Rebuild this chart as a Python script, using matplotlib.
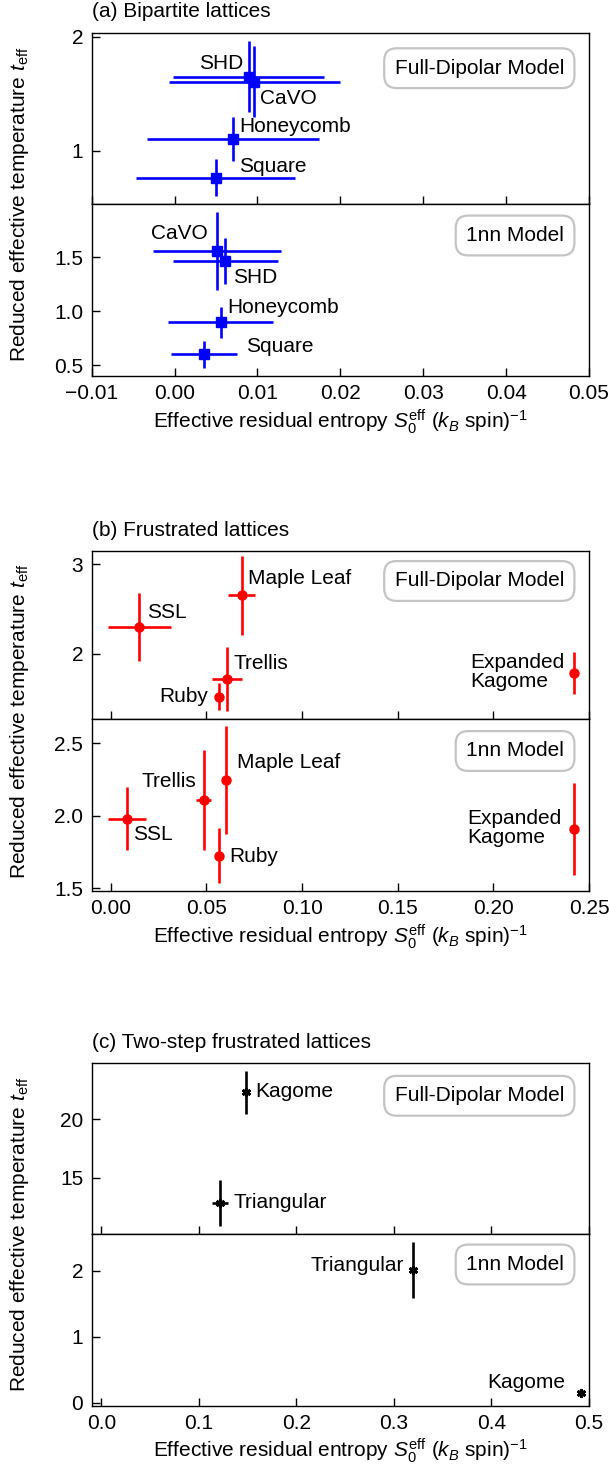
import matplotlib
matplotlib.use("Agg")
import matplotlib.pyplot as plt

plt.rcParams['font.family'] = ['Liberation Sans', 'DejaVu Sans']
plt.rcParams['mathtext.fontset'] = 'custom'
plt.rcParams['mathtext.rm'] = 'Liberation Sans'
plt.rcParams['mathtext.it'] = 'Liberation Sans:italic'
plt.rcParams['mathtext.bf'] = 'Liberation Sans:bold'
plt.rcParams['font.size'] = 15

# ---------------- Data ----------------
# (a) Bipartite lattices
a_fd_names = ['SHD', 'CaVO', 'Honeycomb', 'Square']
a_fd_x = [0.00892, 0.0096, 0.00704, 0.00494]
a_fd_xerr = [0.0091, 0.0103, 0.0104, 0.0096]
a_fd_y = [1.649, 1.605, 1.103, 0.763]
a_fd_yerr = [0.31, 0.31, 0.19, 0.16]
a_fd_lx = [0.00831, 0.01033, 0.0078, 0.0078]
a_fd_ly = [1.767, 1.46, 1.21, 0.86]
a_fd_ha = ['right', 'left', 'left', 'left']

a_nn_names = ['CaVO', 'SHD', 'Honeycomb', 'Square']
a_nn_x = [0.00514, 0.00614, 0.00554, 0.00354]
a_nn_xerr = [0.0077, 0.0063, 0.0063, 0.004]
a_nn_y = [1.558, 1.466, 0.896, 0.599]
a_nn_yerr = [0.361, 0.217, 0.144, 0.127]
a_nn_lx = [0.00406, 0.00711, 0.00639, 0.00864]
a_nn_ly = [1.721, 1.308, 1.034, 0.67]
a_nn_ha = ['right', 'left', 'left', 'left']

# (b) Frustrated lattices
b_fd_names = ['SSL', 'Maple Leaf', 'Trellis', 'Ruby', 'Expanded\nKagome']
b_fd_x = [0.01494, 0.0684, 0.0606, 0.0566, 0.2421]
b_fd_xerr = [0.0164, 0.007, 0.0078, 0.0015, 0.0]
b_fd_y = [2.302, 2.653, 1.72, 1.522, 1.787]
b_fd_yerr = [0.38, 0.44, 0.36, 0.15, 0.23]
b_fd_lx = [0.0191, 0.0719, 0.064, 0.051, 0.2374]
b_fd_ly = [2.46, 2.84, 1.888, 1.525, 1.794]
b_fd_ha = ['left', 'left', 'left', 'right', 'right']

b_nn_names = ['SSL', 'Trellis', 'Maple Leaf', 'Ruby', 'Expanded\nKagome']
b_nn_x = [0.00836, 0.0486, 0.0601, 0.0564, 0.2421]
b_nn_xerr = [0.010, 0.004, 0.0, 0.0, 0.0]
b_nn_y = [1.981, 2.106, 2.247, 1.724, 1.908]
b_nn_yerr = [0.215, 0.345, 0.37, 0.19, 0.32]
b_nn_lx = [0.0118, 0.0446, 0.0658, 0.062, 0.2356]
b_nn_ly = [1.869, 2.239, 2.366, 1.72, 1.913]
b_nn_ha = ['left', 'right', 'left', 'left', 'right']

# (c) Two-step frustrated lattices
c_fd_names = ['Kagome', 'Triangular']
c_fd_x = [0.148, 0.1213]
c_fd_xerr = [0.002, 0.008]
c_fd_y = [22.29, 12.82]
c_fd_yerr = [1.87, 1.97]
c_fd_lx = [0.158, 0.135]
c_fd_ly = [22.4, 12.9]
c_fd_ha = ['left', 'left']

c_nn_names = ['Triangular', 'Kagome']
c_nn_x = [0.3196, 0.4923]
c_nn_xerr = [0.001, 0.001]
c_nn_y = [2.015, 0.15]
c_nn_yerr = [0.43, 0.03]
c_nn_lx = [0.31, 0.4752]
c_nn_ly = [2.09, 0.30]
c_nn_ha = ['right', 'right']

# ---------------- Figure ----------------
W, H = 610, 1480
fig = plt.figure(figsize=(W / 100, H / 100), dpi=100)


def make_ax(top_px, bot_px):
    left, right = 91.7, 589.0
    return fig.add_axes([left / W, 1 - bot_px / H, (right - left) / W, (bot_px - top_px) / H])


def style(ax):
    ax.tick_params(direction='in', length=6, width=1.0, top=False, right=False,
                   labelsize=15, pad=6)
    for s in ax.spines.values():
        s.set_linewidth(1.0)


def draw(ax, x, xerr, y, yerr, names, lx, ly, ha, color, marker, ms, mew):
    for i in range(len(x)):
        ax.errorbar(x[i], y[i], xerr=xerr[i] if xerr[i] > 0 else None, yerr=yerr[i],
                    fmt='none', ecolor=color, elinewidth=1.9, capsize=0)
        ax.plot(x[i], y[i], linestyle='none', marker=marker, color=color, ms=ms, mew=mew)
        ax.text(lx[i], ly[i], names[i], ha=ha[i], va='center', multialignment='left',
                linespacing=1.0, fontsize=15)


def model_box(ax, text, dy):
    ax.annotate(text, xy=(1, 1), xycoords='axes fraction', xytext=(-25, -dy),
                textcoords='offset pixels', ha='right', va='center', fontsize=15,
                bbox=dict(boxstyle='round,pad=0.5,rounding_size=0.6', fc='white',
                          ec='#c4c4c4', lw=1.6))


xlabel = r'Effective residual entropy $S_0^{\rm eff}$ $(k_B\ \mathrm{spin})^{-1}$'
ylabel = r'Reduced effective temperature $t_{\rm eff}$'

panels = [
    dict(title='(a) Bipartite lattices', tops=(32.7, 204.0, 376.0), color='#0000ff',
         marker='s', ms=7.5, mew=1.0, xlim=(-0.01, 0.05),
         xticks=[-0.01, 0, 0.01, 0.02, 0.03, 0.04, 0.05], xfmt='{:.2f}',
         ylim1=(0.532, 2.035), yt1=[1, 2], yf1='{:.0f}',
         ylim2=(0.398, 1.995), yt2=[0.5, 1.0, 1.5], yf2='{:.1f}',
         d1=(a_fd_x, a_fd_xerr, a_fd_y, a_fd_yerr, a_fd_names, a_fd_lx, a_fd_ly, a_fd_ha),
         d2=(a_nn_x, a_nn_xerr, a_nn_y, a_nn_yerr, a_nn_names, a_nn_lx, a_nn_ly, a_nn_ha),
         box1=35.5, box2=31.5),
    dict(title='(b) Frustrated lattices', tops=(551.0, 719.0, 891.0), color='#ff0000',
         marker='o', ms=6.5, mew=1.0, xlim=(-0.01, 0.25),
         xticks=[0, 0.05, 0.10, 0.15, 0.20, 0.25], xfmt='{:.2f}',
         ylim1=(1.275, 3.145), yt1=[2, 3], yf1='{:.0f}',
         ylim2=(1.481, 2.668), yt2=[1.5, 2.0, 2.5], yf2='{:.1f}',
         d1=(b_fd_x, b_fd_xerr, b_fd_y, b_fd_yerr, b_fd_names, b_fd_lx, b_fd_ly, b_fd_ha),
         d2=(b_nn_x, b_nn_xerr, b_nn_y, b_nn_yerr, b_nn_names, b_nn_lx, b_nn_ly, b_nn_ha),
         box1=30, box2=32),
    dict(title='(c) Two-step frustrated lattices', tops=(1063.3, 1234.0, 1405.7), color='black',
         marker=(6, 2, 0), ms=6.5, mew=2.0, xlim=(-0.01, 0.5),
         xticks=[0, 0.1, 0.2, 0.3, 0.4, 0.5], xfmt='{:.1f}',
         ylim1=(10.18, 24.78), yt1=[15, 20], yf1='{:.0f}',
         ylim2=(-0.046, 2.562), yt2=[0, 1, 2], yf2='{:.0f}',
         d1=(c_fd_x, c_fd_xerr, c_fd_y, c_fd_yerr, c_fd_names, c_fd_lx, c_fd_ly, c_fd_ha),
         d2=(c_nn_x, c_nn_xerr, c_nn_y, c_nn_yerr, c_nn_names, c_nn_lx, c_nn_ly, c_nn_ha),
         box1=32.5, box2=30.5),
]

for p in panels:
    t0, t1, t2 = p['tops']
    ax1 = make_ax(t0, t1)
    ax2 = make_ax(t1, t2)
    for ax in (ax1, ax2):
        style(ax)
        ax.set_xlim(*p['xlim'])
        ax.set_xticks(p['xticks'])
    ax1.tick_params(labelbottom=False)
    ax2.set_xticklabels([p['xfmt'].format(v).replace('-', '\u2212') for v in p['xticks']])
    ax1.set_ylim(*p['ylim1'])
    ax1.set_yticks(p['yt1'])
    ax1.set_yticklabels([p['yf1'].format(v) for v in p['yt1']])
    ax2.set_ylim(*p['ylim2'])
    ax2.set_yticks(p['yt2'])
    ax2.set_yticklabels([p['yf2'].format(v) for v in p['yt2']])

    draw(ax1, *p['d1'], p['color'], p['marker'], p['ms'], p['mew'])
    draw(ax2, *p['d2'], p['color'], p['marker'], p['ms'], p['mew'])
    model_box(ax1, 'Full-Dipolar Model', p['box1'])
    model_box(ax2, '1nn Model', p['box2'])

    fig.text(91.7 / W, 1 - (t0 - 21) / H, p['title'], ha='left', va='center', fontsize=15)
    fig.text(340 / W, 1 - (t2 + 31) / H, xlabel, ha='center', va='top', fontsize=15)
    fig.text(20 / W, 1 - ((t0 + t2) / 2) / H, ylabel, ha='center', va='center',
             rotation=90, fontsize=15)

fig.savefig('out.png', dpi=100)
